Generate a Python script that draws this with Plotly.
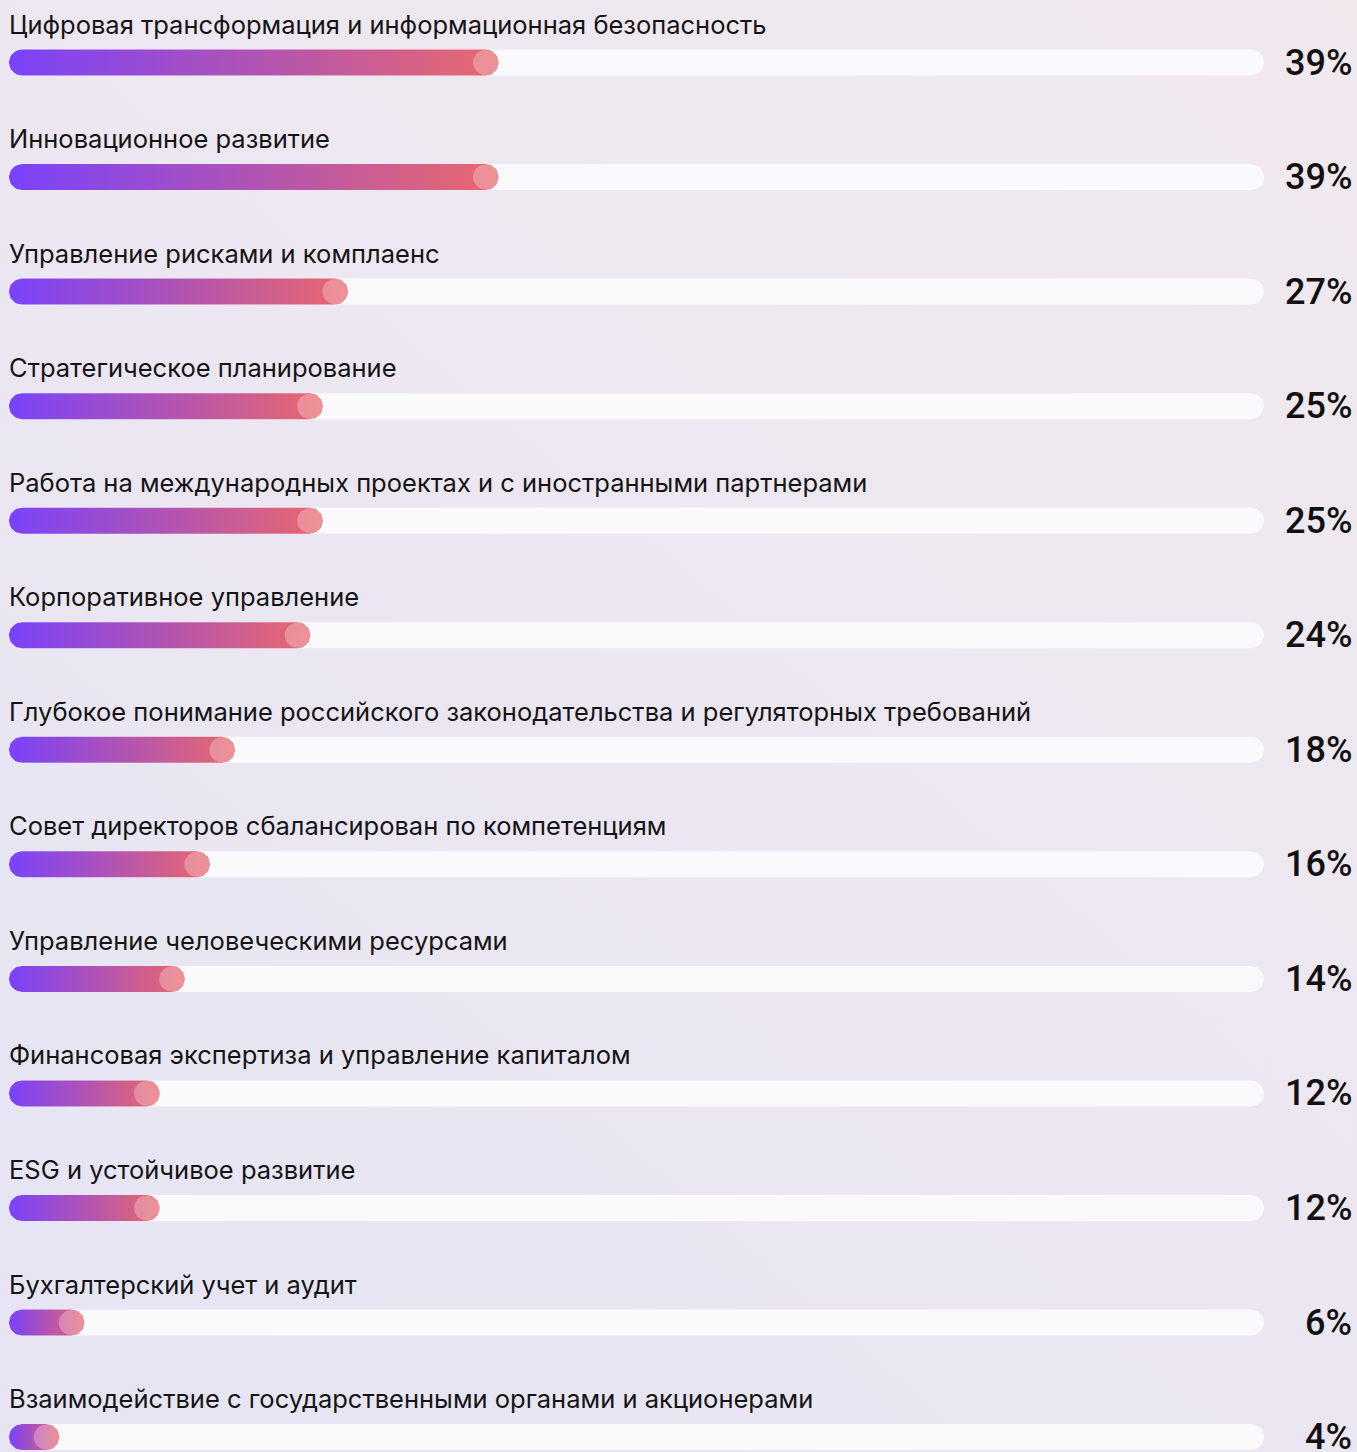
import base64
import numpy as np
import plotly.graph_objects as go

# Доля членов СД по компетенциям, %
categories = [
    "Цифровая трансформация и информационная безопасность",
    "Инновационное развитие",
    "Управление рисками и комплаенс",
    "Стратегическое планирование",
    "Работа на международных проектах и с иностранными партнерами",
    "Корпоративное управление",
    "Глубокое понимание российского законодательства и регуляторных требований",
    "Совет директоров сбалансирован по компетенциям",
    "Управление человеческими ресурсами",
    "Финансовая экспертиза и управление капиталом",
    "ESG и устойчивое развитие",
    "Бухгалтерский учет и аудит",
    "Взаимодействие с государственными органами и акционерами",
]
values = [39, 39, 27, 25, 25, 24, 18, 16, 14, 12, 12, 6, 4]
track_max = 100

W, H = 1357, 1452
X0_PX, PX_PER_UNIT = 9, 12.55          # horizontal scale: px = X0 + v * k
ROW0_PX, ROW_STEP = 62.5, 114.55       # vertical centre of first bar, row pitch
BAR_H = 26                             # bar thickness, px

x_range = [-X0_PX / PX_PER_UNIT, (W - X0_PX) / PX_PER_UNIT]
y_range = [(H - ROW0_PX) / ROW_STEP, -ROW0_PX / ROW_STEP]

rx = (BAR_H / 2) / PX_PER_UNIT
ry = (BAR_H / 2) / ROW_STEP


def pill(x_end, yc, n=24):
    """Closed outline of a rounded bar from 0 to x_end centred on yc."""
    t1 = np.linspace(np.pi / 2, -np.pi / 2, n)
    t2 = np.linspace(-np.pi / 2, -3 * np.pi / 2, n)
    xr = (x_end - rx) + rx * np.cos(t1)
    yr = yc - ry * np.sin(t1)
    xl = rx + rx * np.cos(t2)
    yl = yc - ry * np.sin(t2)
    xs = np.concatenate([xr, xl, xr[:1]])
    ys = np.concatenate([yr, yl, yr[:1]])
    return xs, ys


fig = go.Figure()

for i, (cat, v) in enumerate(zip(categories, values)):
    # light track
    tx, ty = pill(track_max, i)
    fig.add_trace(go.Scatter(
        x=tx, y=ty, mode="lines", fill="toself", fillcolor="#FAF9FC",
        line=dict(width=0), hoverinfo="skip", showlegend=False,
    ))
    # gradient value bar
    bx, by = pill(v, i)
    fig.add_trace(go.Scatter(
        x=bx, y=by, mode="lines", fill="toself",
        fillgradient=dict(type="horizontal",
                          colorscale=[[0, "#7A42FB"], [0.5, "#B053B4"], [1, "#E9686C"]]),
        line=dict(width=0), hoverinfo="skip", showlegend=False,
    ))

# knobs at the end of each bar
fig.add_trace(go.Scatter(
    x=[v - rx for v in values], y=list(range(len(values))), mode="markers",
    marker=dict(size=BAR_H - 1, color="rgba(255,255,255,0.28)", line=dict(width=0)),
    hoverinfo="skip", showlegend=False,
))

annotations = []
for i, (cat, v) in enumerate(zip(categories, values)):
    annotations.append(dict(
        x=0, y=i - 38.5 / ROW_STEP, xref="x", yref="y", text=cat,
        showarrow=False, xanchor="left", yanchor="middle", xshift=-2,
        font=dict(family="Inter", size=25.5, color="#141414"),
    ))
    annotations.append(dict(
        x=(W - 3) / W, y=i, xref="paper", yref="y", text=f"{v}%",
        showarrow=False, xanchor="right", yanchor="middle",
        font=dict(family="Roboto", size=36, color="#111111", weight=500),
    ))

bg_svg = f"""<svg xmlns='http://www.w3.org/2000/svg' width='{W}' height='{H}'>
<defs><linearGradient id='g' x1='1' y1='0' x2='0.2' y2='1'>
<stop offset='0' stop-color='#F1E9EE'/><stop offset='1' stop-color='#E7E5F4'/>
</linearGradient></defs><rect width='{W}' height='{H}' fill='url(#g)'/></svg>"""
bg_uri = "data:image/svg+xml;base64," + base64.b64encode(bg_svg.encode()).decode()

fig.update_layout(
    width=W, height=H,
    margin=dict(l=0, r=0, t=0, b=0),
    paper_bgcolor="#ECE7F1", plot_bgcolor="rgba(0,0,0,0)",
    xaxis=dict(range=x_range, visible=False, fixedrange=True),
    yaxis=dict(range=y_range, visible=False, fixedrange=True),
    annotations=annotations,
    images=[dict(source=bg_uri, xref="paper", yref="paper", x=0, y=1,
                 sizex=1, sizey=1, sizing="stretch", layer="below",
                 xanchor="left", yanchor="top")],
)

fig.write_html("out.html")
